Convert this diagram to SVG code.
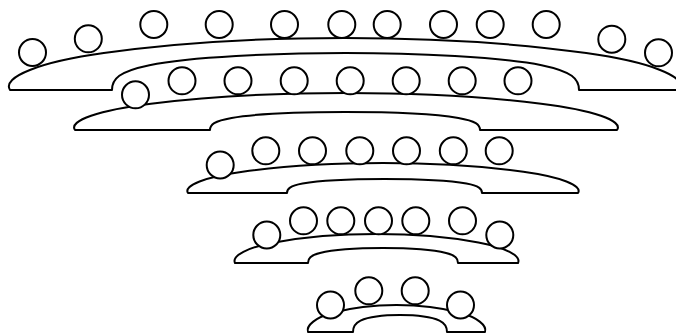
<svg xmlns="http://www.w3.org/2000/svg" width="676" height="334" viewBox="0 0 676 334">
<style>
.t{fill:#fff;stroke:#000;stroke-width:2;stroke-linejoin:round}
.s{fill:#fff;stroke:#000;stroke-width:2}
</style>
<rect width="676" height="334" fill="#fff"/>
<g id="tier1">
<path class="t" d="M10,90 C1.6,77 40.2,61.9 103.8,53.1 C174.2,43.2 261.3,38 345,38 C428.7,38 515.8,43.2 586.2,53.1 C649.8,61.9 688.4,77 680,90 L579,90 C579,78.9 572,71.5 541.6,65.2 C501.9,57.1 415.5,53 345.5,53 C275.5,53 189.1,57.1 149.4,65.2 C119,71.5 112,78.9 112,90 Z"/>
<circle class="s" cx="32.5" cy="52.5" r="13.5"/>
<circle class="s" cx="88.3" cy="38.8" r="13.5"/>
<circle class="s" cx="153.8" cy="24.5" r="13.5"/>
<circle class="s" cx="219.2" cy="24.5" r="13.5"/>
<circle class="s" cx="284.5" cy="24.5" r="13.5"/>
<circle class="s" cx="341.8" cy="24.5" r="13.5"/>
<circle class="s" cx="387.2" cy="24.5" r="13.5"/>
<circle class="s" cx="443.5" cy="24.5" r="13.5"/>
<circle class="s" cx="490.2" cy="24.5" r="13.5"/>
<circle class="s" cx="546.2" cy="24.5" r="13.5"/>
<circle class="s" cx="611.8" cy="39.2" r="13.5"/>
<circle class="s" cx="658.5" cy="52.8" r="13.5"/>
</g>
<g id="tier2">
<path class="t" d="M75,130 C68.2,120.75 99.4,110 150.9,103.7 C207.8,96.7 278.3,93 346,93 C413.7,93 484.2,96.7 541.1,103.7 C592.6,110 623.8,120.75 617,130 L480,130 C480,124.6 476,121 458.4,117.9 C435.4,114 385.5,112 345,112 C304.5,112 254.6,114 231.6,117.9 C214,121 210,124.6 210,130 Z"/>
<circle class="s" cx="135.5" cy="94.8" r="13.5"/>
<circle class="s" cx="182" cy="80.8" r="13.5"/>
<circle class="s" cx="238" cy="80.8" r="13.5"/>
<circle class="s" cx="294.2" cy="80.8" r="13.5"/>
<circle class="s" cx="350.2" cy="80.8" r="13.5"/>
<circle class="s" cx="406.2" cy="80.8" r="13.5"/>
<circle class="s" cx="462.2" cy="80.8" r="13.5"/>
<circle class="s" cx="518" cy="80.8" r="13.5"/>
</g>
<g id="tier3">
<path class="t" d="M188,193 C183.1,185.5 205.6,176.8 242.6,171.7 C283.6,166 334.3,163 383,163 C431.7,163 482.4,166 523.4,171.7 C560.4,176.8 582.9,185.5 578,193 L482,193 C482,188.8 479.1,186 466.4,183.6 C449.8,180.5 413.7,179 384.5,179 C355.3,179 319.2,180.5 302.6,183.6 C289.9,186 287,188.8 287,193 Z"/>
<circle class="s" cx="220.2" cy="165" r="13.5"/>
<circle class="s" cx="265.8" cy="150.8" r="13.5"/>
<circle class="s" cx="312.5" cy="150.8" r="13.5"/>
<circle class="s" cx="359.8" cy="150.8" r="13.5"/>
<circle class="s" cx="406.5" cy="150.8" r="13.5"/>
<circle class="s" cx="453.3" cy="150.8" r="13.5"/>
<circle class="s" cx="499.2" cy="150.8" r="13.5"/>
</g>
<g id="tier4">
<path class="t" d="M235,263 C231.5,255.75 247.7,247.3 274.6,242.4 C304.3,236.9 341.1,234 376.5,234 C411.9,234 448.7,236.9 478.4,242.4 C505.3,247.3 521.5,255.75 518,263 L458,263 C458,258.5 455.7,255.5 446,253 C433.2,249.7 405.5,248 383,248 C360.5,248 332.8,249.7 320,253 C310.3,255.5 308,258.5 308,263 Z"/>
<circle class="s" cx="266.8" cy="235" r="13.5"/>
<circle class="s" cx="303.5" cy="220.8" r="13.5"/>
<circle class="s" cx="340.8" cy="220.8" r="13.5"/>
<circle class="s" cx="378.5" cy="220.8" r="13.5"/>
<circle class="s" cx="415.8" cy="220.8" r="13.5"/>
<circle class="s" cx="462.5" cy="220.8" r="13.5"/>
<circle class="s" cx="499.8" cy="235" r="13.5"/>
</g>
<g id="tier5">
<path class="t" d="M308,332 C305.8,325.25 316,317.4 332.8,312.8 C351.4,307.7 374.4,305 396.5,305 C418.6,305 441.6,307.7 460.2,312.8 C477,317.4 487.2,325.25 485,332 L447,332 C447,326.9 445.6,323.5 439.5,320.6 C431.5,316.9 414.1,315 400,315 C385.9,315 368.5,316.9 360.5,320.6 C354.4,323.5 353,326.9 353,332 Z"/>
<circle class="s" cx="330.5" cy="305" r="13.5"/>
<circle class="s" cx="368.8" cy="290.8" r="13.5"/>
<circle class="s" cx="415.2" cy="290.8" r="13.5"/>
<circle class="s" cx="460.5" cy="305" r="13.5"/>
</g>
<g id="connectors"/>
</svg>
